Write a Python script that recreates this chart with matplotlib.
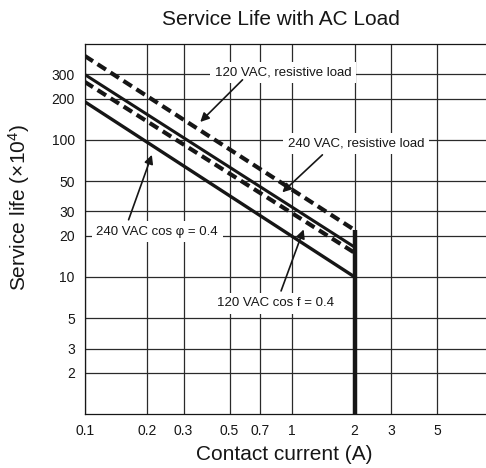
import matplotlib
matplotlib.use('Agg')
import matplotlib.pyplot as plt
from matplotlib.ticker import FixedLocator, FixedFormatter, NullLocator

plt.rcParams['font.family'] = ['Liberation Sans', 'DejaVu Sans']
plt.rcParams['mathtext.fontset'] = 'custom'
plt.rcParams['mathtext.rm'] = 'Liberation Sans'
plt.rcParams['mathtext.default'] = 'regular'

# contact current at the two ends of every curve (A)
current = [0.1, 2]
# service life (x10^4 operations)
life_120_res = [410, 22]
life_240_res = [300, 16.5]
life_120_cos = [265, 15]
life_240_cos = [190, 10]
max_current = 2

x_ticks = [0.1, 0.2, 0.3, 0.5, 0.7, 1, 2, 3, 5]
x_labels = ['0.1', '0.2', '0.3', '0.5', '0.7', '1', '2', '3', '5']
y_ticks = [2, 3, 5, 10, 20, 30, 50, 100, 200, 300]
y_labels = ['2', '3', '5', '10', '20', '30', '50', '100', '200', '300']

ink = '#161616'

fig = plt.figure(figsize=(4.86, 4.68), dpi=100)
ax = fig.add_axes([0.174, 0.1154, 0.826, 0.7906])
ax.set_xscale('log')
ax.set_yscale('log')
ax.set_xlim(0.1, 8.6)
ax.set_ylim(1, 500)

ax.xaxis.set_major_locator(FixedLocator(x_ticks))
ax.xaxis.set_major_formatter(FixedFormatter(x_labels))
ax.xaxis.set_minor_locator(NullLocator())
ax.yaxis.set_major_locator(FixedLocator(y_ticks))
ax.yaxis.set_major_formatter(FixedFormatter(y_labels))
ax.yaxis.set_minor_locator(NullLocator())
ax.tick_params(length=0, labelsize=10, pad=7, colors=ink)

ax.grid(True, color='#2a2a2a', lw=0.9)
ax.spines['right'].set_visible(False)
for s in ['left', 'top', 'bottom']:
    ax.spines[s].set_linewidth(0.9)
    ax.spines[s].set_color(ink)

dash = (2.4, 1.3)
ax.plot(current, life_120_res, color=ink, lw=3, dashes=dash, dash_capstyle='butt')
ax.plot(current, life_240_res, color=ink, lw=2.2, solid_capstyle='butt')
ax.plot(current, life_120_cos, color=ink, lw=3, dashes=dash, dash_capstyle='butt')
ax.plot(current, life_240_cos, color=ink, lw=2.4, solid_capstyle='butt')
# cut-off at the rated current
ax.plot([max_current, max_current], [1, life_120_res[-1]], color=ink, lw=3.2,
        solid_capstyle='butt')

box = dict(boxstyle='square,pad=0.35', fc='white', ec='none')
arrow = dict(arrowstyle='-|>', color=ink, lw=1.2, mutation_scale=13,
             shrinkA=0, shrinkB=0)

labels = [
    ('120 VAC, resistive load', (0.905, 308), (0.577, 274), (0.361, 135)),
    ('240 VAC, resistive load', (2.03, 94.6), (1.40, 77.7), (0.897, 41.4)),
    ('240 VAC cos \u03c6 = 0.4', (0.224, 21.4), (0.163, 26.1), (0.211, 77.7)),
    ('120 VAC cos f = 0.4', (0.832, 6.43), (0.885, 7.9), (1.137, 22.2)),
]
for text, pos, start, tip in labels:
    ax.text(pos[0], pos[1], text, ha='center', va='center', fontsize=9.5,
            color=ink, bbox=box, zorder=4)
    ax.annotate('', xy=tip, xytext=start, arrowprops=arrow, zorder=5)

fig.text(0.579, 0.958, 'Service Life with AC Load', ha='center', va='center',
         fontsize=15, color=ink)
fig.text(0.584, 0.028, 'Contact current (A)', ha='center', va='center',
         fontsize=15, color=ink)
fig.text(0.039, 0.557, 'Service life (\u00d710$^{4}$)', ha='center', va='center',
         rotation=90, fontsize=15, color=ink)

fig.savefig('out.png', dpi=100)
